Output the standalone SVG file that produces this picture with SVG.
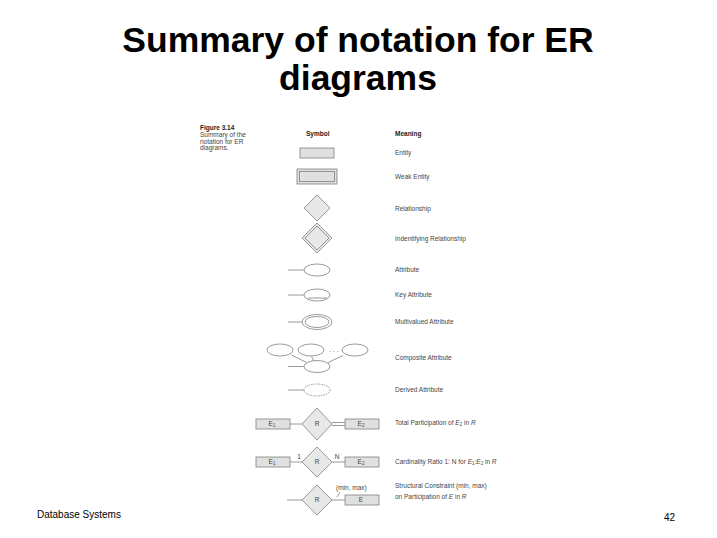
<svg xmlns="http://www.w3.org/2000/svg" width="717" height="538" viewBox="0 0 717 538">
<style>
.title{font-family:"Liberation Sans",Arial,sans-serif;font-weight:bold;font-size:35.5px;fill:#000;text-anchor:middle}
.foot{font-family:"Liberation Sans",Arial,sans-serif;font-size:10px;fill:#000}
.sm{font-family:"Liberation Sans",Arial,sans-serif;font-size:6.5px;fill:#444}
.hd{font-family:"Liberation Sans",Arial,sans-serif;font-size:6.5px;fill:#222;font-weight:bold}
.in{font-family:"Liberation Sans",Arial,sans-serif;font-size:6.5px;fill:#444;text-anchor:middle}
.box{fill:#e0e0e0;stroke:#808080;stroke-width:0.8}
.dia{fill:#e8e8e8;stroke:#808080;stroke-width:0.8}
.ell{fill:#fff;stroke:#808080;stroke-width:0.8}
.ln{stroke:#808080;stroke-width:0.8;fill:none}
</style>
<rect width="717" height="538" fill="#fff"/>
<text class="title" x="358" y="52">Summary of notation for ER</text>
<text class="title" x="358" y="90">diagrams</text>
<text class="foot" x="37" y="518">Database Systems</text>
<text class="foot" x="664" y="521">42</text>

<g id="caption">
<text class="hd" x="200" y="130">Figure 3.14</text>
<text class="sm" x="200" y="137">Summary of the</text>
<text class="sm" x="200" y="143.5">notation for ER</text>
<text class="sm" x="200" y="150">diagrams.</text>
<text class="hd" x="306" y="136">Symbol</text>
<text class="hd" x="395" y="136">Meaning</text>
</g>

<g id="connectors">
<line class="ln" x1="288" y1="270" x2="304" y2="270"/>
<line class="ln" x1="288" y1="295" x2="304" y2="295"/>
<line class="ln" x1="288" y1="322" x2="302" y2="322" stroke="#bbb"/>
<line class="ln" x1="288" y1="366.5" x2="304" y2="366.5"/>
<line class="ln" x1="291.5" y1="355" x2="306.5" y2="362.5"/>
<line class="ln" x1="311.5" y1="356.5" x2="314" y2="361"/>
<line class="ln" x1="343" y1="355.5" x2="328" y2="362.5"/>
<line class="ln" x1="288" y1="390" x2="304" y2="390"/>
<line class="ln" x1="290" y1="424" x2="302" y2="424"/>
<line class="ln" x1="332" y1="422.5" x2="345" y2="422.5"/>
<line class="ln" x1="332" y1="425.5" x2="345" y2="425.5"/>
<line class="ln" x1="290" y1="462" x2="302" y2="462"/>
<line class="ln" x1="332" y1="462" x2="345" y2="462"/>
<line class="ln" x1="287" y1="500" x2="302" y2="500" stroke="#999" stroke-width="1.4"/>
<line class="ln" x1="332" y1="500" x2="345" y2="500"/>
<line class="ln" x1="337" y1="497" x2="340" y2="492"/>
</g>

<g id="entity">
<rect class="box" x="300" y="148" width="34" height="10"/>
<text class="sm" x="395" y="155">Entity</text>
</g>
<g id="weak-entity">
<rect class="box" x="297" y="169" width="40" height="15"/>
<rect class="box" x="299.5" y="171.5" width="35" height="10"/>
<text class="sm" x="395" y="179">Weak Entity</text>
</g>
<g id="relationship">
<polygon class="dia" points="317,195 330,208 317,221 304,208"/>
<text class="sm" x="395" y="211">Relationship</text>
</g>
<g id="identifying-relationship">
<polygon class="dia" points="317,223 332,238 317,253 302,238"/>
<polygon class="dia" points="317,226 329,238 317,250 305,238"/>
<text class="sm" x="395" y="241">Indentifying Relationship</text>
</g>
<g id="attribute">
<ellipse class="ell" cx="317" cy="270" rx="13" ry="6"/>
<text class="sm" x="395" y="272">Attribute</text>
</g>
<g id="key-attribute">
<ellipse class="ell" cx="317" cy="295" rx="13" ry="6"/>
<line class="ln" x1="308" y1="298" x2="327" y2="298"/>
<text class="sm" x="395" y="297">Key Attribute</text>
</g>
<g id="multivalued-attribute">
<ellipse class="ell" cx="317" cy="322" rx="15" ry="7.5"/>
<ellipse class="ell" cx="317" cy="322" rx="12" ry="5.5"/>
<text class="sm" x="395" y="324">Multivalued Attribute</text>
</g>
<g id="composite-attribute">
<ellipse class="ell" cx="280" cy="350" rx="13" ry="6"/>
<ellipse class="ell" cx="311" cy="350" rx="13" ry="6"/>
<ellipse class="ell" cx="355" cy="350" rx="13" ry="6"/>
<text class="in" x="334" y="352">. . .</text>
<ellipse class="ell" cx="317" cy="366.5" rx="13" ry="6"/>
<text class="sm" x="395" y="360">Composite Attribute</text>
</g>
<g id="derived-attribute">
<ellipse class="ell" cx="317" cy="390" rx="13" ry="6" stroke-dasharray="1.5,1"/>
<text class="sm" x="395" y="392">Derived Attribute</text>
</g>
<g id="total-participation">
<rect class="box" x="256" y="419" width="34" height="10"/>
<text class="in" x="272" y="426">E<tspan font-size="4.5" dy="1">1</tspan></text>
<polygon class="dia" points="317,408 332,424 317,440 302,424"/>
<text class="in" x="317" y="426">R</text>
<rect class="box" x="345" y="419" width="34" height="10"/>
<text class="in" x="361" y="426">E<tspan font-size="4.5" dy="1">2</tspan></text>
<text class="sm" x="395" y="425">Total Participation of <tspan font-style="italic">E</tspan><tspan font-size="4.5" dy="1">2</tspan><tspan dy="-1"> in </tspan><tspan font-style="italic">R</tspan></text>
</g>
<g id="cardinality-ratio">
<rect class="box" x="256" y="457" width="34" height="10"/>
<text class="in" x="272" y="464">E<tspan font-size="4.5" dy="1">1</tspan></text>
<text class="in" x="299" y="459">1</text>
<polygon class="dia" points="317,447 332,462 317,477 302,462"/>
<text class="in" x="317" y="464">R</text>
<text class="in" x="337" y="459">N</text>
<rect class="box" x="345" y="457" width="34" height="10"/>
<text class="in" x="361" y="464">E<tspan font-size="4.5" dy="1">2</tspan></text>
<text class="sm" x="395" y="464">Cardinality Ratio 1: N for <tspan font-style="italic">E</tspan><tspan font-size="4.5" dy="1">1</tspan><tspan dy="-1">:</tspan><tspan font-style="italic">E</tspan><tspan font-size="4.5" dy="1">2</tspan><tspan dy="-1"> in </tspan><tspan font-style="italic">R</tspan></text>
</g>
<g id="structural-constraint">
<polygon class="dia" points="317,485 332,500 317,515 302,500"/>
<text class="in" x="317" y="502">R</text>
<text class="sm" x="336" y="490">(min, max)</text>
<rect class="box" x="345" y="495" width="34" height="10"/>
<text class="in" x="361" y="502">E</text>
<text class="sm" x="395" y="488">Structural Constraint (min, max)</text>
<text class="sm" x="395" y="499">on Participation of <tspan font-style="italic">E</tspan> in <tspan font-style="italic">R</tspan></text>
</g>
</svg>
